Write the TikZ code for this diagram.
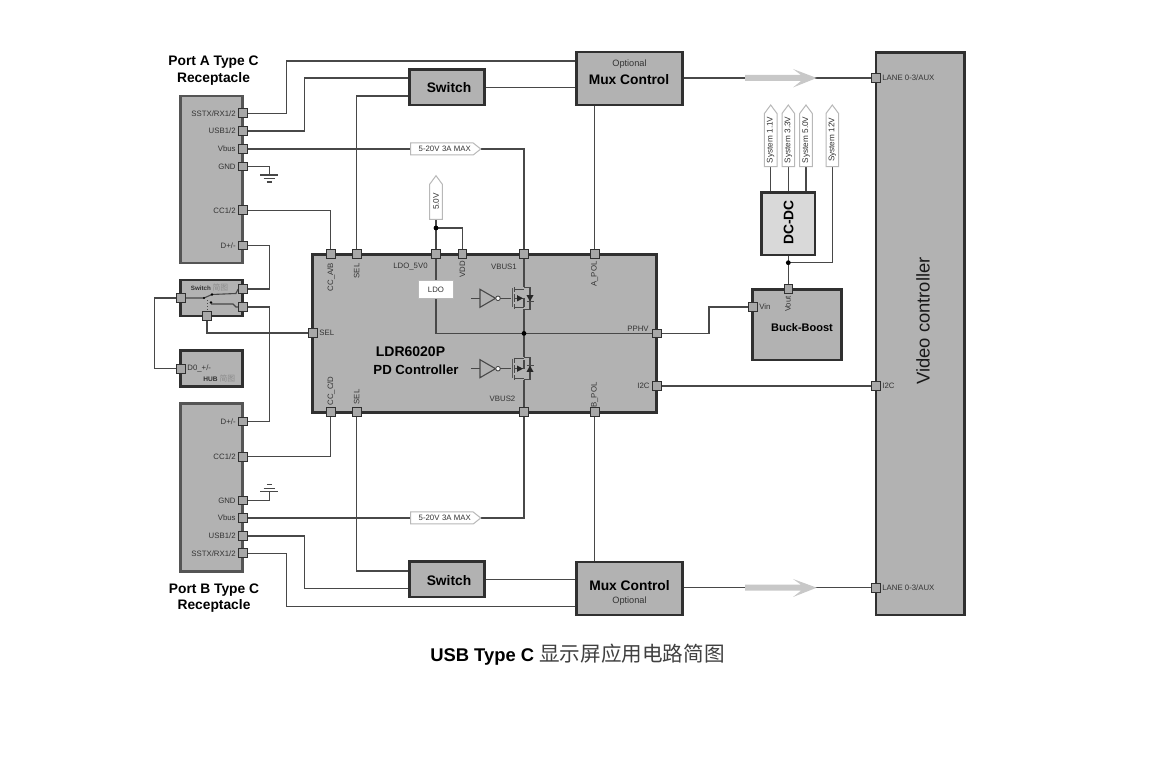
\documentclass[tikz,border=0pt]{standalone}
\usepackage{fontspec}
\setmainfont{Liberation Sans}
\newfontfamily\cjk{Noto Sans CJK SC}
\usetikzlibrary{fit}
\pgfdeclarelayer{boxes}
\pgfdeclarelayer{wires}
\pgfsetlayers{boxes,wires,main}
\definecolor{boxgray}{HTML}{B2B2B2}
\definecolor{pingray}{HTML}{A8A8A8}
\definecolor{edgedark}{HTML}{303030}
\definecolor{edgeport}{HTML}{555555}
\definecolor{wirecol}{HTML}{484848}
\definecolor{labelcol}{HTML}{333333}
\definecolor{taggray}{HTML}{B8B8B8}
\definecolor{bigarrow}{HTML}{C8C8C8}
\newcommand\fsz[1]{\fontsize{#1}{#1}\selectfont}
\tikzset{
  blockst/.style={rectangle,draw=edgedark,fill=boxgray,line width=1.35pt,inner sep=0pt},
  portst/.style={blockst,draw=edgeport},
  dcst/.style={blockst,fill=black!15},
  pinst/.style={rectangle,draw=edgedark,fill=pingray,line width=.4pt,minimum size=4.4pt,inner sep=0pt},
  wire/.style={draw=wirecol,line width=.55pt},
  dotst/.style={circle,fill=black,inner sep=0pt,minimum size=2.4pt},
  lbl/.style={inner sep=0pt,text=labelcol,font=\fsz{3.9pt}},
  ttl/.style={inner sep=0pt,text=black,font=\bfseries\fsz{6.9pt},align=center},
  tagline/.style={draw=taggray,fill=white,line width=.5pt,line join=miter},
}
% name x1 y1 x2 y2 style
\newcommand\blk[6]{\begin{pgfonlayer}{boxes}\node[#6,fit={(#2,#3)(#4,#5)}] (#1) {};\end{pgfonlayer}}
\newcommand\pinat[3]{\node[pinst] (#1) at (#2,#3) {};}
% horizontal tag: name x1 x2 y text
\newcommand\tagh[5]{\path[tagline] (#2,#4-6) -- (#3-7.5,#4-6) -- (#3,#4) -- (#3-7.5,#4+6) -- (#2,#4+6) -- cycle;
  \node[lbl,font=\fsz{3.9pt}] (#1) at ({(#2+#3)/2-1},#4) {#5};
  \coordinate (#1w) at (#2,#4); \coordinate (#1e) at (#3,#4);}
% vertical tag: name cx ytip ybottom text
\newcommand\tagv[5]{\path[tagline] (#2-6.3,#4) -- (#2-6.3,#3+8.5) -- (#2,#3) -- (#2+6.3,#3+8.5) -- (#2+6.3,#4) -- cycle;
  \node[lbl,rotate=90,font=\fsz{4.1pt}] (#1) at (#2,{(#3+#4)/2+4}) {#5};
  \coordinate (#1b) at (#2,#4);}
% transistor stage: centre y, rail top, rail bottom, diode direction
\newcommand\fetstage[4]{%
  \draw[wire,fill=none,line width=.55pt] (480,#1-9) -- (495.5,#1) -- (480,#1+9) -- cycle;
  \draw[wire,fill=white,line width=.45pt] (498,#1) circle (2.3);
  \draw[wire] (471,#1) -- (480,#1);
  \draw[wire] (500.3,#1) -- (511,#1);
  \draw[wire,line width=.8pt,draw=black!65] (512.3,#1-10) -- (512.3,#1+9);
  \draw[wire,line width=.7pt] (514.6,#1-11) -- (514.6,#1-6) (514.6,#1-4) -- (514.6,#1+4) (514.6,#1+6) -- (514.6,#1+11);
  \draw[wire] (514.6,#2) -- (524,#2) (514.6,#3) -- (524,#3);
  \draw[wire] (514.6,#1) -- (524,#1) -- (524,#1+#4*9);
  \fill[black!85] (517,#1-3.2) -- (523,#1) -- (517,#1+3.2) -- cycle;
  \draw[wire] (524,#1-#4*11) -- (530,#1-#4*11) -- (530,#1+#4*11) -- (524,#1+#4*11);
  \fill[black!85] (526.5,#1-#4*3.2) -- (533.5,#1-#4*3.2) -- (530,#1+#4*3) -- cycle;
  \draw[wire] (526.5,#1+#4*3.2) -- (533.5,#1+#4*3.2);
}
\begin{document}
\begin{tikzpicture}[x=.5pt,y=-.5pt]
\useasboundingbox (0,0) rectangle (1175,759);
\begin{pgfonlayer}{boxes}
\fill[white] (0,0) rectangle (1175,759);
\end{pgfonlayer}
% blocks
\blk{portA}{180.7}{96}{242.7}{263}{portst}
\blk{swchip}{180.7}{280}{242.7}{316}{blockst}
\blk{hub}{180.7}{350.7}{242.7}{386.7}{blockst}
\blk{portB}{180.7}{403.3}{242.7}{571.7}{portst}
\blk{ctrl}{312.7}{254.3}{656.7}{412.3}{blockst}
\blk{swA}{409.3}{69.3}{484.7}{105}{blockst}
\blk{muxA}{576.7}{52}{682.7}{105}{blockst}
\blk{swB}{409.3}{561.7}{484.7}{597}{blockst}
\blk{muxB}{576.7}{562}{682.7}{615}{blockst}
\blk{video}{876}{52.7}{964.3}{615}{blockst}
\blk{dcdc}{761.3}{192.3}{815}{255}{dcst}
\blk{buck}{752.7}{289.3}{841.3}{360}{blockst}
% pins
\pinat{pa1}{243}{113.3}\pinat{pa2}{243}{131}\pinat{pa3}{243}{149}\pinat{pa4}{243}{166.5}\pinat{pa5}{243}{210.3}\pinat{pa6}{243}{245.5}
\pinat{pb6}{243}{421.5}\pinat{pb5}{243}{456.7}\pinat{pb4}{243}{500.5}\pinat{pb3}{243}{518}\pinat{pb2}{243}{536}\pinat{pb1}{243}{553.3}
\pinat{sw1}{181}{298}\pinat{sw2}{243}{289}\pinat{sw3}{243}{307}\pinat{sw4}{207}{316}
\pinat{hub1}{181}{368.7}
\pinat{c1}{330.7}{254.3}\pinat{c2}{356.7}{254.3}\pinat{c3}{436}{254.3}\pinat{c4}{462.3}{254.3}\pinat{c5}{524}{254.3}\pinat{c6}{594.7}{254.3}
\pinat{d1}{330.7}{412.3}\pinat{d2}{356.7}{412.3}\pinat{d5}{524}{412.3}\pinat{d6}{594.7}{412.3}
\pinat{csel}{313}{333}\pinat{pphv}{656.5}{333.4}\pinat{ci2c}{656.5}{386}
\pinat{vin}{752.7}{307}\pinat{vout}{788.3}{289.3}
\pinat{vl1}{876}{78}\pinat{vi2c}{876}{386}\pinat{vl2}{876}{587.7}
% tags and LDO on top of the wires
\tagh{tagA}{410.7}{480.7}{149}{5-20V\,\,3A MAX}
\tagh{tagB}{410.7}{480.7}{518}{5-20V\,\,3A MAX}
\tagv{tag5}{436}{175.7}{219.3}{5.0V}
\tagv{sys1}{770.7}{105}{166.7}{System 1.1V}
\tagv{sys2}{788.3}{105}{166.7}{System 3.3V}
\tagv{sys3}{806}{105}{166.7}{System 5.0V}
\tagv{sys4}{832.3}{105}{166.7}{System 12V}
\node[draw=taggray,fill=white,line width=.5pt,minimum width=17.3pt,minimum height=8.8pt,inner sep=0pt,text=labelcol,font=\fsz{3.9pt}] (ldo) at (436,289.5) {LDO};
\node[dotst] (j5) at (436,228) {};
\node[dotst] (jv) at (524,333.4) {};
\node[dotst] (jb) at (788.3,262.7) {};
% connectors
\begin{pgfonlayer}{wires}
\draw[wire] (pa1.center) -| (286.7,61) -- (muxA.west |- 0,61);
\draw[wire] (pa2.center) -| (304.3,78) -- (swA.west |- 0,78);
\draw[wire] (c2.center) |- (swA.west |- 0,96);
\draw[wire] (swA.east |- 0,87.3) -- (muxA.west |- 0,87.3);
\draw[wire] (muxA.east |- vl1) -- (vl1.center);
\draw[wire] (pa3.center) -- (tagAw);
\draw[wire] (tagAe) -| (c5.center);
\draw[wire] (muxA.south -| c6) -- (c6.center);
\draw[wire] (pa5.center) -| (c1.center);
\draw[wire] (pa6.center) -| (269.3,289) -- (sw2.center);
\draw[wire] (sw3.center) -| (269.3,421.5) -- (pb6.center);
\draw[wire] (sw4.center) |- (csel.center);
\draw[wire] (sw1.center) -| (154.7,368.7) -- (hub1.center);
\coordinate (gA) at (269.3,175);
\coordinate (gB) at (269.3,491.7);
\draw[wire] (pa4.center) -| (gA);
\draw[wire] (pb4.center) -| (gB);
\draw[wire] ([xshift=-4.5pt]gA) -- ([xshift=4.5pt]gA);
\draw[wire] (263.6,178.4) -- (275,178.4);
\draw[wire] (266.8,182) -- (271.8,182);
\draw[wire] ([xshift=-4.5pt]gB) -- ([xshift=4.5pt]gB);
\draw[wire] (263.6,488.3) -- (275,488.3);
\draw[wire] (266.8,484.5) -- (271.8,484.5);
\draw[wire] (tag5b) -- (c3.center);
\draw[wire] (j5.center) -| (c4.center);
\draw[wire] (c3.center) -- (ldo.north);
\draw[wire] (ldo.south) |- (pphv.center);
\draw[wire] (c5.center) -- (524,287.3);
\draw[wire] (524,309.3) -- (524,357.4);
\draw[wire] (524,380) -- (d5.center);
\fetstage{298.3}{289.3}{307.5}{1}
\fetstage{368.7}{358.3}{378.3}{-1}
\draw[wire] (pphv.center) -| (709,307) -- (vin.center);
\draw[wire] (ci2c.center) -- (vi2c.center);
\draw[wire] (pb3.center) -- (tagBw);
\draw[wire] (tagBe) -| (d5.center);
\draw[wire] (d1.center) |- (pb5.center);
\draw[wire] (d2.center) |- (swB.west |- 0,571);
\draw[wire] (pb2.center) -| (304.3,588.3) -- (swB.west |- 0,588.3);
\draw[wire] (pb1.center) -| (286.7,606.3) -- (muxB.west |- 0,606.3);
\draw[wire] (swB.east |- 0,579.5) -- (muxB.west |- 0,579.5);
\draw[wire] (muxB.north -| d6) -- (d6.center);
\draw[wire] (muxB.east |- vl2) -- (vl2.center);
\draw[wire] (sys1b) -- (dcdc.north -| sys1b);
\draw[wire] (sys2b) -- (dcdc.north -| sys2b);
\draw[wire] (sys3b) -- (dcdc.north -| sys3b);
\draw[wire] (sys4b) |- (jb.center);
\draw[wire] (dcdc.south -| jb) -- (vout.center);
% contacts of the switch drawn inside its chip
\draw[wire] (sw1.center) -- (204,298) -- (212,294.5);
\draw[wire] (sw2.center) -- (238,289.3) -- (236,293.5) -- (212,294.5);
\draw[wire] (sw3.center) -- (236,307) -- (233,304) -- (211,304);
\draw[wire,line width=.5pt,densely dotted] (sw4.center) -- (207,298);
\fill[black] (204,298) circle (1.2) (212,294.5) circle (1.4) (211,302.5) circle (1.4);
% grey bus arrows
\fill[bigarrow] (745,75) -- (801,75) -- (793,69) -- (816.7,78) -- (793,87.5) -- (801,81) -- (745,81) -- cycle;
\fill[bigarrow] (745,584.7) -- (801,584.7) -- (793,579) -- (816.7,587.7) -- (793,597) -- (801,590.7) -- (745,590.7) -- cycle;
\end{pgfonlayer}
% titles
\node[ttl] (tA) at (213.5,70.5) {Port A Type C\\[1.4pt]Receptacle};
\node[ttl] (tB) at (214,598) {Port B Type C\\[1.4pt]Receptacle};
\node[ttl] (tsA) at (449,87.5) {Switch};
\node[ttl] (tsB) at (449,581) {Switch};
\node[lbl,font=\fsz{4.6pt}] (optA) at (629.5,64.5) {Optional};
\node[ttl] (muxtA) at (629,79.5) {Mux Control};
\node[ttl] (muxtB) at (629.5,586) {Mux Control};
\node[lbl,font=\fsz{4.6pt}] (optB) at (629.5,601) {Optional};
\node[ttl,rotate=90] (tdc) at (788.5,222.5) {DC-DC};
\node[ttl,font=\bfseries\fsz{5.5pt}] (tbb) at (802,327.5) {Buck-Boost};
\node[ttl,font=\bfseries\fsz{7pt}] (tl1) at (410.5,352) {LDR6020P};
\node[ttl,font=\bfseries\fsz{6.6pt}] (tl2) at (416,370) {PD Controller};
\node[inner sep=0pt,rotate=90,font=\fsz{9.2pt},text=black!90] (tv) at (923,321) {Video controller};
\node[inner sep=0pt,anchor=base] (cap) at (577.5,662) {\bfseries\fsz{9.2pt}USB Type C \mdseries\cjk\fsz{10.3pt}\color{black!75}显示屏应用电路简图};
% pin labels, port A
\node[lbl,anchor=east] (la1) at (236,113.3) {SSTX/RX1/2};
\node[lbl,anchor=east] (la2) at (236,131) {USB1/2};
\node[lbl,anchor=east] (la3) at (236,149) {Vbus};
\node[lbl,anchor=east] (la4) at (236,166.5) {GND};
\node[lbl,anchor=east] (la5) at (236,210.3) {CC1/2};
\node[lbl,anchor=east] (la6) at (236,245.5) {D+/-};
% port B
\node[lbl,anchor=east] (lb6) at (236,421.5) {D+/-};
\node[lbl,anchor=east] (lb5) at (236,456.7) {CC1/2};
\node[lbl,anchor=east] (lb4) at (236,500.5) {GND};
\node[lbl,anchor=east] (lb3) at (236,518) {Vbus};
\node[lbl,anchor=east] (lb2) at (236,536) {USB1/2};
\node[lbl,anchor=east] (lb1) at (236,553.3) {SSTX/RX1/2};
% switch and hub
\node[lbl,anchor=west] (lsw) at (190.5,287.5) {\bfseries\fsz{3.1pt}Switch \mdseries\cjk\fsz{3.9pt}\color{black!45}简图};
\node[lbl,anchor=west] (lhb1) at (187,368.5) {D0\_+/-};
\node[lbl,anchor=west] (lhb2) at (203,378.5) {\bfseries\fsz{3.3pt}HUB \mdseries\cjk\fsz{3.9pt}\color{black!45}简图};
% controller
\node[lbl,rotate=90] (lc1) at (331,277) {CC\_A/B};
\node[lbl,rotate=90] (lc2) at (356.7,271) {SEL};
\node[lbl] (lc3) at (410.5,267) {LDO\_5V0};
\node[lbl,rotate=90] (lc4) at (462.5,269.5) {VDD};
\node[lbl] (lc5) at (504,267) {VBUS1};
\node[lbl,rotate=90] (lc6) at (594.7,274) {A\_POL};
\node[lbl,anchor=west] (lcs) at (319,333) {SEL};
\node[lbl] (lpp) at (638,329.3) {PPHV};
\node[lbl,anchor=east] (li2) at (650,386) {I2C};
\node[lbl] (lv2) at (502.5,399.3) {VBUS2};
\node[lbl,rotate=90] (lb6p) at (594.7,395) {B\_POL};
\node[lbl,rotate=90] (ld1) at (331,391) {CC\_C/D};
\node[lbl,rotate=90] (ld2) at (356.7,397) {SEL};
% buck and video
\node[lbl,anchor=west] (lvin) at (759,307) {Vin};
\node[lbl,rotate=90] (lvout) at (788,304) {Vout};
\node[lbl,anchor=west] (lv1) at (882,78) {LANE 0-3/AUX};
\node[lbl,anchor=west] (lv2b) at (882,386) {I2C};
\node[lbl,anchor=west] (lv3) at (882,588) {LANE 0-3/AUX};
\end{tikzpicture}
\end{document}
